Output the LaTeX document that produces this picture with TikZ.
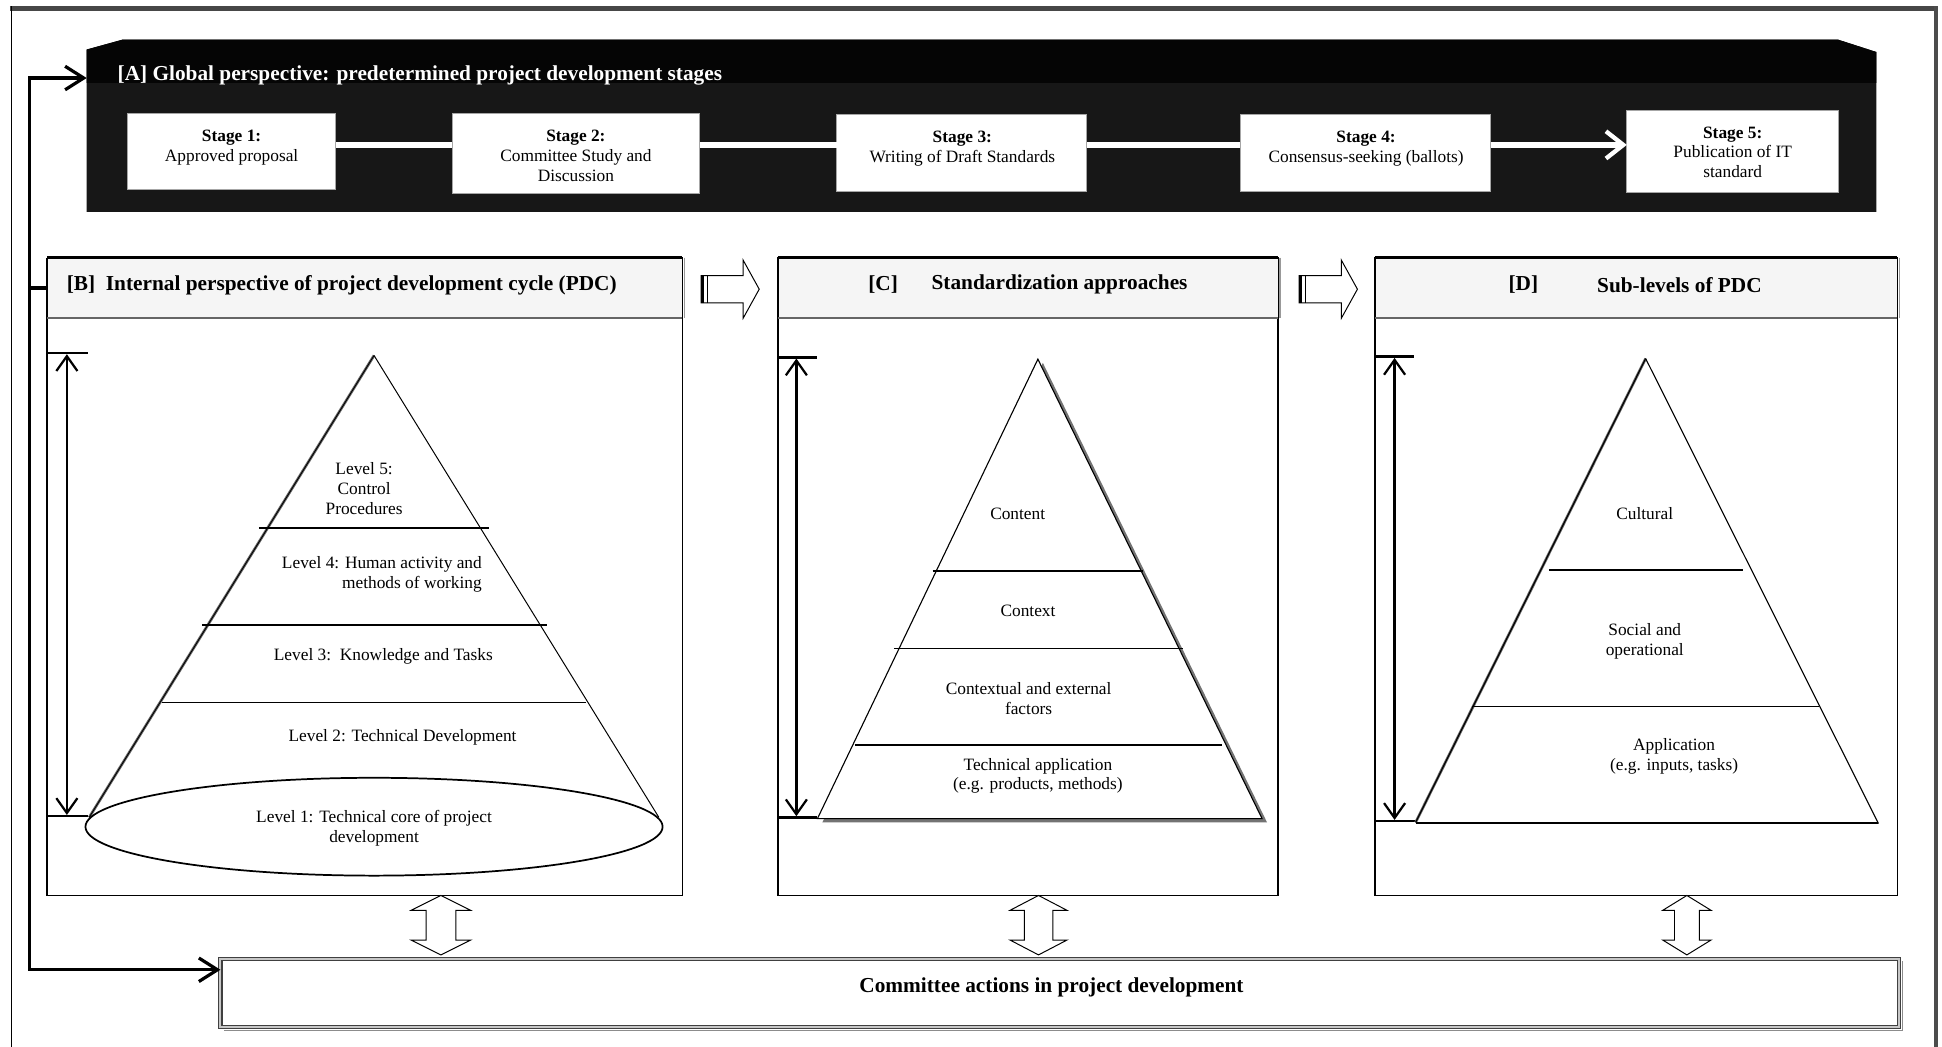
\documentclass[tikz,border=0pt]{standalone}
\usepackage{fontspec}
\setmainfont{Liberation Serif}
\usetikzlibrary{arrows.meta,calc}

\tikzset{
  every node/.style={inner sep=0pt, outer sep=0pt},
  txt/.style={font=\fontsize{14}{16}\selectfont, align=center},
  heading/.style={font=\bfseries\fontsize{17.2}{20}\selectfont},
  stagebox/.style={draw=black!35, fill=white, line width=0.8pt},
  headbox/.style={draw=black, fill=black!4, line width=0.8pt},
  bodybox/.style={draw=black, line width=1.3pt},
  tier/.style={line width=1.2pt},
  blockarrow/.style={draw=black, fill=white, line width=0.8pt, line join=miter},
  dimtip/.tip={Straight Barb[length=12pt,width=17pt,line width=1.8pt]},
  fbtip/.tip={Straight Barb[length=15pt,width=19pt,line width=2.6pt]},
  linktip/.tip={Straight Barb[length=14pt,width=22pt,line width=3.5pt]},
  pics/rightblock/.style={code={
    \draw[blockarrow] (0,-11) -- (34,-11) -- (34,-23.5) -- (47,0) -- (34,23.5) -- (34,11) -- (0,11) -- cycle;
    \draw[line width=2.6pt] (1.3,-11) -- (1.3,11);
    \draw[line width=0.9pt] (5,-11) -- (5,11);
  }},
  pics/updown/.style 2 args={code={
    \draw[blockarrow] (0,0) -- (#1,12) -- (#2,12) -- (#2,36) -- (#1,36) -- (0,48)
      -- (-#1,36) -- (-#2,36) -- (-#2,12) -- (-#1,12) -- cycle;
  }},
}

\begin{document}
\begin{tikzpicture}[x=1pt,y=-1pt]
\useasboundingbox (0,0) rectangle (1568,845);
\fill[white] (0,0) rectangle (1568,845);

% outer frame
\draw[black!72, line width=4pt] (8,7) -- (1565,7);
\draw[line width=1pt] (9.5,5) -- (9.5,845);
\draw[black!70, line width=3.5pt] (1563,5) -- (1563,845);

% [A] dark banner with chamfered top corners
\fill[black!91] (70,40) -- (99,32) -- (1484,32) -- (1515,42) -- (1515,171) -- (70,171) -- cycle;
\fill[black!98] (70,40) -- (99,32) -- (1484,32) -- (1515,42) -- (1515,67) -- (70,67) -- cycle;
\node[minimum width=1445pt, minimum height=139pt] (A) at (792.5,101.5) {};
\node[heading, text=white, anchor=west] (Atitle) at (95,61)
  {[A] Global perspective: predetermined project development stages};

% stages
\node[stagebox, minimum width=168pt, minimum height=61pt] (s1) at (187,122.5) {};
\node[stagebox, minimum width=200pt, minimum height=64pt] (s2) at (465,124) {};
\node[stagebox, minimum width=202pt, minimum height=62pt] (s3) at (776.5,123.5) {};
\node[stagebox, minimum width=202pt, minimum height=62pt] (s4) at (1102.5,123.5) {};
\node[stagebox, minimum width=171pt, minimum height=66pt] (s5) at (1399,122.3) {};

\node[txt] (s1t) at (187,119) {\textbf{Stage 1:}\\Approved proposal};
\node[txt] (s2t) at (465,126) {\textbf{Stage 2:}\\Committee Study and\\Discussion};
\node[txt] (s3t) at (777,120) {\textbf{Stage 3:}\\Writing of Draft Standards};
\node[txt] (s4t) at (1103,120) {\textbf{Stage 4:}\\Consensus-seeking (ballots)};
\node[txt] (s5t) at (1399,123) {\textbf{Stage 5:}\\Publication of IT\\standard};

\coordinate (link) at (0,117);
\draw[white, line width=4.5pt] (s1.east |- link) -- (s2.west |- link);
\draw[white, line width=4.5pt] (s2.east |- link) -- (s3.west |- link);
\draw[white, line width=4.5pt] (s3.east |- link) -- (s4.west |- link);
\draw[white, line width=4.5pt, -linktip] (s4.east |- link) -- (s5.west |- link);

% panels B, C, D
\node[bodybox, minimum width=513pt, minimum height=466pt] (Bbody) at (294.5,490) {};
\node[bodybox, minimum width=404pt, minimum height=466pt] (Cbody) at (830,490) {};
\node[bodybox, minimum width=422pt, minimum height=466pt] (Dbody) at (1321,490) {};
\node[headbox, minimum width=513pt, minimum height=49pt] (Bhead) at (294.5,232.5) {};
\node[headbox, minimum width=404pt, minimum height=49pt] (Chead) at (830,232.5) {};
\node[headbox, minimum width=422pt, minimum height=49pt] (Dhead) at (1321,232.5) {};
\foreach \h in {Bhead,Chead,Dhead}{
  \draw[line width=2.4pt] (\h.north west) -- (\h.north east);
  \draw[line width=1.8pt] (\h.north west) -- (\h.south west);
  \draw[black!60, line width=1.8pt] (\h.south west) -- (\h.south east);
  \draw[black!40, line width=1.2pt] ([xshift=1.5pt]\h.north east) -- ([xshift=1.5pt]\h.south east);
}

\node[heading, anchor=west] (Btitle) at (54,230)
  {[B]\ \ Internal perspective of project development cycle (PDC)};
\node[heading] (Clab) at (713,230) {[C]};
\node[heading] (Ctitle) at (855.5,230) {Standardization approaches};
\node[heading] (Dlab) at (1230,230) {[D]};
\node[heading] (Dtitle) at (1356,230) {Sub-levels of PDC};

% block arrows between the panel headings
\pic at ($(Bhead.east)+(15,1)$) {rightblock};
\pic at ($(Chead.east)+(17,1)$) {rightblock};

% committee box
\draw[black!45, line width=1.2pt] (1536,776) -- (1536,832) -- (181,832);
\node[draw=black!75, line width=0.9pt, double=black!22, double distance=1.6pt,
      fill=white, minimum width=1355pt, minimum height=55pt] (comm) at (855.5,801.5) {};
\node[heading] (commt) at (849,797) {Committee actions in project development};

% double block arrows between panels and committee box
\pic at ($(Bbody.south west)+(318,0)$) {updown={24}{12}};
\pic at ($(Cbody.south west)+(210.5,0)$) {updown={23}{11.5}};
\pic at ($(Dbody.south west)+(252,0)$) {updown={19.5}{10}};

% feedback line
\coordinate (fbtop) at (24,63);
\coordinate (fbbot) at (24,783);
\draw[line width=2.6pt, line join=miter, fbtip-fbtip]
  (A.west |- fbtop) -- (fbtop) -- (fbbot) -- (comm.west |- fbbot);
\draw[line width=2.6pt] (fbtop |- Bhead.west) -- (Bhead.west);

% ---- panel B: cone
\draw[line width=2pt] (39,285) -- (71,285);
\draw[line width=2pt] (39,659) -- (71,659);
\draw[line width=2pt, dimtip-dimtip] (54,286) -- (54,658);
\draw[black!60, line width=2.2pt] (302,287) -- (72,660);
\draw[line width=0.7pt] (302,287) -- (72,660);
\draw[line width=0.8pt] (302,287) -- (532,660);
\draw[line width=1.4pt] (302,667.5) ellipse [x radius=233, y radius=39.5];
\draw[tier] (209,426.5) -- (395,426.5);
\draw[tier] (163,504.6) -- (442,504.6);
\draw[tier] (131,567) -- (473,567);
\node[txt] (L5) at (294,394.6) {Level 5:\\Control\\Procedures};
\node[txt, align=right, anchor=east] (L4) at (389,463.5) {Level 4: Human activity and\\methods of working};
\node[txt] (L3) at (309.5,530) {Level 3:\ \ Knowledge and Tasks};
\node[txt] (L2) at (325,595) {Level 2: Technical Development};
\node[txt] (L1) at (302,669) {Level 1: Technical core of project\\development};

% ---- panel C: pyramid with shadow
\draw[line width=2pt] (628,288.5) -- (660,288.5);
\draw[line width=2pt] (628,660) -- (660,660);
\draw[line width=2pt, dimtip-dimtip] (643,289.5) -- (643,659);
\fill[black!55, shift={(4,3)}] (838,290) -- (660,661) -- (1019,661) -- cycle;
\draw[fill=white, line width=0.9pt] (838,290) -- (660,661) -- (1019,661) -- cycle;
\draw[tier] (753,461) -- (923,461);
\draw[tier] (722,523.7) -- (955,523.7);
\draw[tier] (690,601.5) -- (987,601.5);
\node[txt] (Ccontent) at (821.7,414.7) {Content};
\node[txt] (Ccontext) at (830,493) {Context};
\node[txt] (Cfactors) at (830.5,564) {Contextual and external\\factors};
\node[txt] (Capp) at (838,626.4) {Technical application\\(e.g. products, methods)};

% ---- panel D: pyramid
\draw[line width=2pt] (1111,288) -- (1142,288);
\draw[line width=2pt] (1111,663) -- (1143,663);
\draw[line width=2pt, dimtip-dimtip] (1126,289) -- (1126,662);
\draw[black!60, line width=2.2pt] (1328.7,289.5) -- (1143,664);
\draw[line width=0.9pt] (1328.7,289.5) -- (1143,664);
\draw[line width=0.9pt] (1328.7,289.5) -- (1516.7,665);
\draw[line width=1.8pt] (1143,664.5) -- (1516.7,664.5);
\draw[line width=1.4pt] (1250.5,460) -- (1407,460);
\draw[tier] (1188.5,570.5) -- (1469,570.5);
\node[txt] (Dcult) at (1328,414.7) {Cultural};
\node[txt] (Dsoc) at (1328,517.6) {Social and\\operational};
\node[txt] (Dapp) at (1351.7,610.7) {Application\\(e.g. inputs, tasks)};

\end{tikzpicture}
\end{document}
